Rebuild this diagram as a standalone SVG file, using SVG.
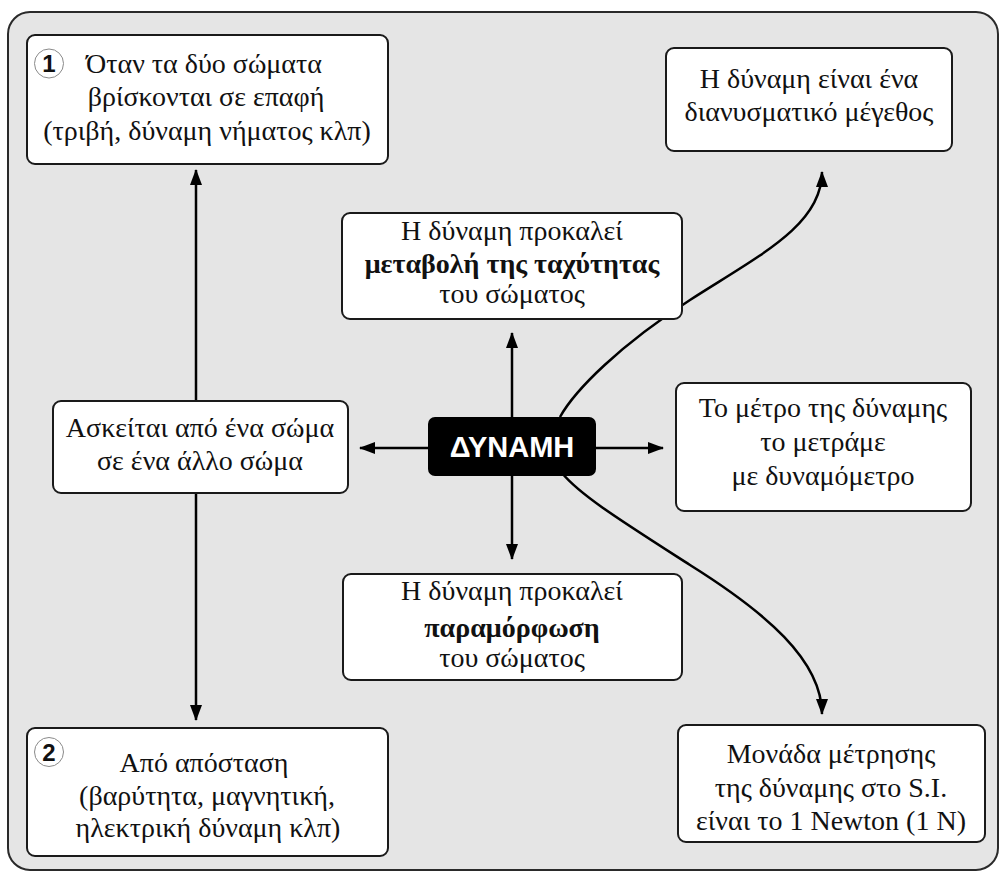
<svg xmlns="http://www.w3.org/2000/svg" width="1004" height="876" viewBox="0 0 1004 876">
<style>
.frame{fill:#e5e5e5;stroke:#2a2a2a;stroke-width:2}
.box{fill:#ffffff;stroke:#1a1a1a;stroke-width:2}
.t{font-family:"Liberation Serif","Times New Roman",serif;font-size:28px;fill:#111;text-anchor:middle}
.b{font-weight:bold}
.num{fill:#fff;stroke:#8a8a8a;stroke-width:1}
.nt{font-family:"Liberation Sans",Arial,sans-serif;font-weight:bold;font-size:24px;fill:#111;text-anchor:middle}
.core{fill:#000;stroke:#000;stroke-width:2}
.ct{font-family:"Liberation Sans",Arial,sans-serif;font-weight:bold;font-size:29px;fill:#fff;text-anchor:middle}
.c{fill:none;stroke:#000;stroke-width:2.5;marker-end:url(#ah)}
</style>
<defs>
<marker id="ah" viewBox="0 0 16 12" refX="15" refY="6" markerWidth="16" markerHeight="12" markerUnits="userSpaceOnUse" orient="auto">
<path d="M0,0 L16,6 L0,12 z" fill="#000"/>
</marker>
</defs>
<rect class="frame" x="8" y="12" width="990" height="858" rx="22" ry="22"/>
<g id="connectors">
<line class="c" x1="512" y1="418" x2="512" y2="333"/>
<line class="c" x1="512" y1="475" x2="512" y2="559"/>
<line class="c" x1="429" y1="448" x2="360" y2="448"/>
<line class="c" x1="595" y1="448" x2="663" y2="448"/>
<line class="c" x1="196" y1="401" x2="196" y2="170"/>
<line class="c" x1="196" y1="493" x2="196" y2="720"/>
<path class="c" d="M560,417 C575,390 620,345 690,300 C760,255 822,225 822,172"/>
<path class="c" d="M562,473 C580,495 620,520 690,565 C765,612 822,660 822,714"/>
</g>
<g id="node-contact">
<rect class="box" x="27" y="35" width="361" height="129" rx="8"/>
<circle class="num" cx="49" cy="63.500" r="14.500"/>
<text class="nt" x="49" y="72">1</text>
<text class="t" x="204" y="73">Όταν τα δύο σώματα</text>
<text class="t" x="206" y="106">βρίσκονται σε επαφή</text>
<text class="t" x="207" y="140">(τριβή, δύναμη νήματος κλπ)</text>
</g>
<g id="node-vector">
<rect class="box" x="666" y="48" width="286" height="103" rx="8"/>
<text class="t" x="809" y="88">Η δύναμη είναι ένα</text>
<text class="t" x="809" y="121">διανυσματικό μέγεθος</text>
</g>
<g id="node-velocity">
<rect class="box" x="342" y="213" width="340" height="106" rx="8"/>
<text class="t" x="512" y="240">Η δύναμη προκαλεί</text>
<text class="t b" x="512" y="273">μεταβολή της ταχύτητας</text>
<text class="t" x="512" y="303">του σώματος</text>
</g>
<g id="node-force">
<rect class="core" x="429" y="418" width="166" height="57" rx="6"/>
<text class="ct" x="512" y="457">ΔΥΝΑΜΗ</text>
</g>
<g id="node-exerted">
<rect class="box" x="53" y="401" width="295" height="92" rx="8"/>
<text class="t" x="200" y="437">Ασκείται από ένα σώμα</text>
<text class="t" x="200" y="470">σε ένα άλλο σώμα</text>
</g>
<g id="node-measure">
<rect class="box" x="676" y="383" width="295" height="128" rx="8"/>
<text class="t" x="823" y="417">Το μέτρο της δύναμης</text>
<text class="t" x="823" y="451">το μετράμε</text>
<text class="t" x="823" y="485">με δυναμόμετρο</text>
</g>
<g id="node-deformation">
<rect class="box" x="343" y="574" width="339" height="106" rx="8"/>
<text class="t" x="512" y="600">Η δύναμη προκαλεί</text>
<text class="t b" x="512" y="637">παραμόρφωση</text>
<text class="t" x="512" y="667">του σώματος</text>
</g>
<g id="node-distance">
<rect class="box" x="27" y="728" width="361" height="128" rx="8"/>
<circle class="num" cx="49" cy="752" r="14.500"/>
<text class="nt" x="49" y="760.500">2</text>
<text class="t" x="204" y="772">Από απόσταση</text>
<text class="t" x="207" y="805">(βαρύτητα, μαγνητική,</text>
<text class="t" x="208" y="837">ηλεκτρική δύναμη κλπ)</text>
</g>
<g id="node-unit">
<rect class="box" x="678" y="725" width="307" height="117" rx="8"/>
<text class="t" x="831" y="763">Μονάδα μέτρησης</text>
<text class="t" x="831" y="797">της δύναμης στο S.I.</text>
<text class="t" x="831" y="830">είναι το 1 Newton (1 N)</text>
</g>
</svg>
